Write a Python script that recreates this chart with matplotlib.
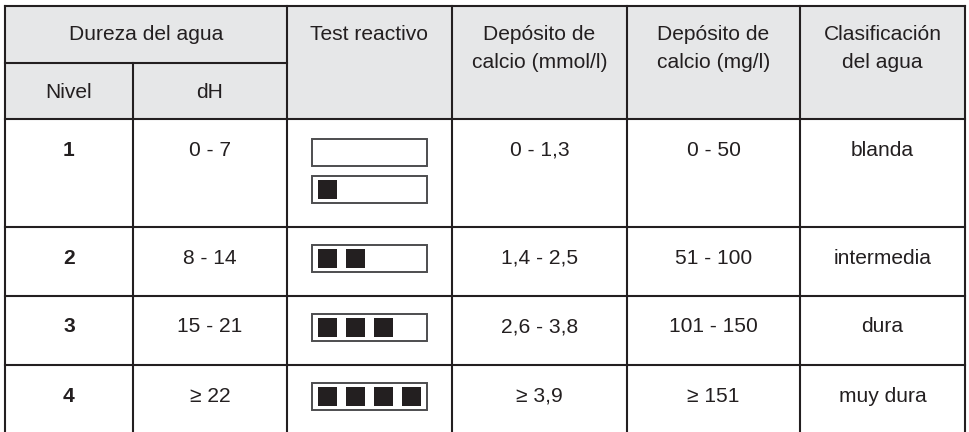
import matplotlib.pyplot as plt
from matplotlib.patches import Rectangle

plt.rcParams['font.family'] = ['Liberation Sans', 'DejaVu Sans']

# table content
group_header = "Dureza del agua"
sub_headers = ["Nivel", "dH"]
col_headers = [["Test reactivo"],
               ["Depósito de", "calcio (mmol/l)"],
               ["Depósito de", "calcio (mg/l)"],
               ["Clasificación", "del agua"]]
nivel = ["1", "2", "3", "4"]
dh = ["0 - 7", "8 - 14", "15 - 21", "≥ 22"]
test_squares = [[0, 1], [2], [3], [4]]   # filled squares per test strip
mmol = ["0 - 1,3", "1,4 - 2,5", "2,6 - 3,8", "≥ 3,9"]
mg = ["0 - 50", "51 - 100", "101 - 150", "≥ 151"]
clase = ["blanda", "intermedia", "dura", "muy dura"]

# layout (pixels)
col_x = [5, 133, 287, 452, 627, 800, 965]
top, mid, head_bot = 6, 63, 119
row_y = [119, 227, 296, 365, 432]
INK = "#231f20"
FS = 15.1

fig = plt.figure(figsize=(9.7, 4.32), dpi=100)
ax = fig.add_axes([0, 0, 1, 1])
ax.set_xlim(0, 970)
ax.set_ylim(432, 0)
ax.axis("off")

ax.add_patch(Rectangle((col_x[0], top), col_x[-1] - col_x[0], head_bot - top,
                       facecolor="#e6e7e8", edgecolor="none", zorder=0))

lw = 1.5
for y in [top, head_bot] + row_y[1:-1]:
    ax.plot([col_x[0], col_x[-1]], [y, y], color=INK, lw=lw, solid_capstyle="projecting")
ax.plot([col_x[0], col_x[2]], [mid, mid], color=INK, lw=lw)
for i, x in enumerate(col_x):
    y0 = mid if i == 1 else top
    ax.plot([x, x], [y0, 432], color=INK, lw=lw, solid_capstyle="projecting")

def txt(x, cap_center, s, bold=False):
    ax.text(x, cap_center + 7.5, s, ha="center", va="baseline", fontsize=FS,
            color=INK, fontweight="bold" if bold else "normal")

centers = [(col_x[i] + col_x[i + 1]) / 2 for i in range(6)]

txt((col_x[0] + col_x[2]) / 2, 32.5, group_header)
for i, s in enumerate(sub_headers):
    txt(centers[i], 90.5, s)
for j, lines in enumerate(col_headers):
    for k, s in enumerate(lines):
        txt(centers[j + 2], 32.5 + 28.5 * k, s)

bx0, bw, bh = 312, 115, 27
for r in range(4):
    yt = row_y[r]
    cy = yt + 29
    txt(centers[0], cy, nivel[r], bold=True)
    txt(centers[1], cy, dh[r])
    txt(centers[3], cy, mmol[r])
    txt(centers[4], cy, mg[r])
    txt(centers[5], cy, clase[r])
    by = yt + (20 if r == 0 else 18)
    for n in test_squares[r]:
        ax.add_patch(Rectangle((bx0, by), bw, bh, facecolor="white",
                               edgecolor="#4d4d4f", lw=1.4, zorder=2))
        for q in range(n):
            ax.add_patch(Rectangle((bx0 + 6 + 28 * q, by + 4), 19, 19,
                                   facecolor=INK, edgecolor="none", zorder=3))
        by += 37

fig.savefig("out.png", dpi=100)
